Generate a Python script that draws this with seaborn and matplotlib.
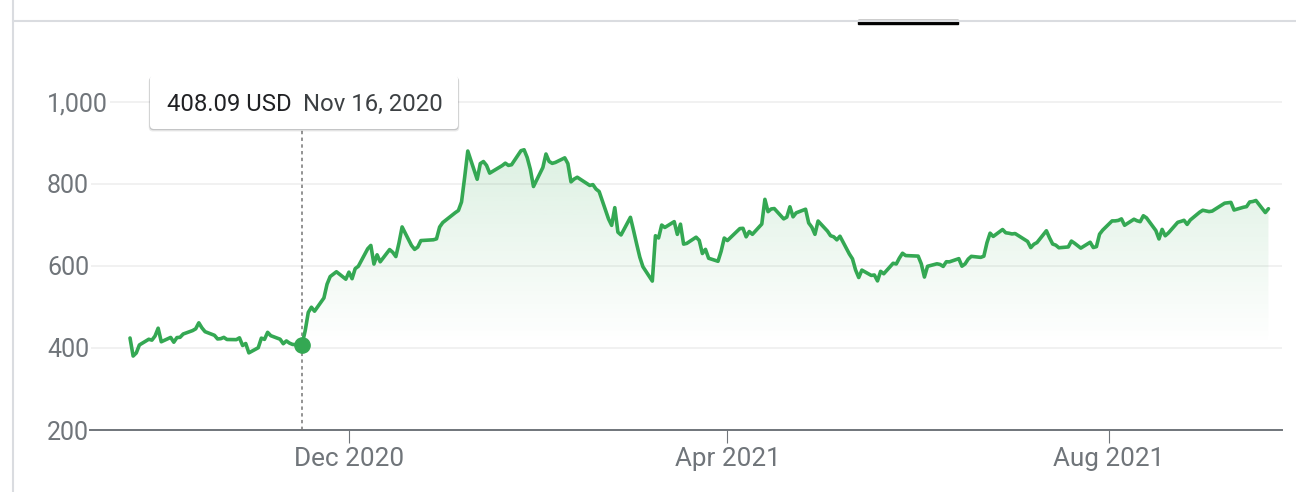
import numpy as np
import pandas as pd
import matplotlib
matplotlib.use('Agg')
from matplotlib import pyplot as plt
import matplotlib.dates as mdates
import matplotlib.patches as mpatches
import matplotlib.transforms as mtransforms
import seaborn as sns

# daily closes, one list per month
sep_2020 = [424.23, 380.36, 387.79, 407.34, 421.20, 419.07, 429.01]
oct_2020 = [448.16, 415.09, 425.68, 413.98, 425.30, 425.92, 434.00, 442.30, 446.65, 461.30, 448.88,
            439.67, 430.83, 421.94, 422.64, 425.79, 420.63, 420.28, 424.68, 406.02, 410.83, 388.04]
nov_2020 = [400.51, 423.90, 420.98, 438.09, 429.95, 421.26, 410.36, 417.13, 411.76, 408.50, 408.09,
            441.61, 486.64, 499.27, 489.61, 521.85, 555.38, 574.00, 585.76, 567.60]
dec_2020 = [584.76, 568.82, 593.38, 599.04, 641.76, 649.88, 604.48, 627.07, 609.99, 639.83, 633.25,
            622.77, 655.90, 695.00, 649.86, 640.34, 645.98, 661.77, 663.69, 665.99, 694.78, 705.67]
jan_2021 = [729.77, 735.11, 755.98, 816.04, 880.02, 811.19, 849.44, 854.41, 845.00, 826.16, 844.55,
            850.45, 844.99, 846.64, 880.80, 883.09, 864.16, 835.43, 793.53]
feb_2021 = [839.81, 872.79, 854.69, 849.99, 852.23, 863.42, 849.46, 804.82, 811.66, 816.12, 796.22,
            798.15, 787.38, 781.30, 714.50, 698.84, 742.02, 682.22, 675.50]
mar_2021 = [718.43, 686.44, 653.20, 621.44, 597.95, 563.00, 673.58, 668.06, 699.60, 693.73, 707.94,
            676.88, 701.81, 653.16, 654.87, 670.00, 662.16, 630.27, 640.39, 618.71, 611.29, 635.62, 667.93]
apr_2021 = [661.75, 691.05, 691.62, 670.97, 683.80, 677.02, 701.98, 762.32, 732.23, 738.85, 739.78,
            714.63, 718.99, 744.12, 719.69, 729.40, 738.20, 704.74, 694.40, 677.00, 709.44]
may_2021 = [684.90, 673.60, 670.94, 663.54, 672.37, 629.04, 617.20, 589.89, 571.69, 589.74, 576.83,
            577.87, 563.46, 586.78, 580.88, 606.44, 604.69, 619.13, 630.85, 625.22]
jun_2021 = [623.90, 605.12, 572.84, 599.05, 605.13, 603.59, 598.78, 610.12, 609.89, 617.69, 599.36,
            604.87, 616.60, 623.31, 620.83, 623.71, 656.57, 679.82, 671.87, 688.72, 680.76, 679.70]
jul_2021 = [677.92, 678.90, 659.58, 644.65, 652.81, 656.95, 685.70, 668.54, 653.38, 650.60, 644.22,
            646.22, 660.50, 655.29, 649.26, 643.38, 657.62, 644.78, 646.98, 677.35, 687.20]
aug_2021 = [709.67, 709.74, 710.92, 714.63, 699.10, 713.76, 709.99, 707.82, 722.25, 717.17, 686.17,
            665.71, 688.99, 673.47, 680.26, 706.30, 708.49, 711.20, 701.16, 711.92, 730.91, 735.72]
sep_2021 = [734.09, 732.39, 733.57, 752.92, 753.87, 754.86, 736.27, 743.00, 744.49, 755.83, 756.99,
            759.49, 730.17, 739.38]

market_holidays = ['2020-11-26', '2020-12-25', '2021-01-01', '2021-01-18', '2021-02-15',
                   '2021-04-02', '2021-05-31', '2021-07-05', '2021-09-06']

closes = (sep_2020 + oct_2020 + nov_2020 + dec_2020 + jan_2021 + feb_2021 + mar_2021
          + apr_2021 + may_2021 + jun_2021 + jul_2021 + aug_2021 + sep_2021)
dates = pd.bdate_range('2020-09-22', '2021-09-21', freq='C', holidays=market_holidays)
df = pd.DataFrame({'date': dates, 'close': closes})

hover_date = pd.Timestamp('2020-11-16')
hover_close = 408.09
tooltip_price = '408.09 USD'
tooltip_date = 'Nov 16, 2020'

y_ticks = [200, 400, 600, 800, 1000]
y_tick_labels = ['200', '400', '600', '800', '1,000']
x_ticks = ['2020-12-01', '2021-04-01', '2021-08-01']

GREEN = '#34a853'
GREY = '#70757a'

sns.set_theme(style='white')
plt.rcParams['font.family'] = ['Roboto', 'DejaVu Sans']

fig = plt.figure(figsize=(12.96, 4.92), dpi=100)
ax = fig.add_axes([90 / 1296, 62 / 492, 1192 / 1296, 361 / 492])

sns.lineplot(data=df, x='date', y='close', ax=ax, color=GREEN, linewidth=2.6, zorder=4,
             solid_joinstyle='round')

# gradient fill from the hovered point onward, down to its price
after = df[df.date >= hover_date]
poly = ax.fill_between(after.date, after.close, hover_close, color='none', linewidth=0)
grad = np.zeros((256, 1, 4))
grad[..., :3] = matplotlib.colors.to_rgb(GREEN)
grad[:, 0, 3] = np.linspace(0.17, 0.0, 256)
x0 = mdates.date2num(after.date.iloc[0])
x1 = mdates.date2num(after.date.iloc[-1])
img = ax.imshow(grad, extent=[x0, x1, hover_close, after.close.max()], origin='upper',
                aspect='auto', zorder=2)
img.set_clip_path(poly.get_paths()[0], transform=ax.transData)

# hover guide + dot
ax.plot([hover_date, hover_date], [200, 932], color='#757575', lw=1.1,
        linestyle=(0, (2.2, 2.2)), zorder=3, clip_on=False)
ax.plot([hover_date], [hover_close], marker='o', markersize=11, color=GREEN, zorder=5)

ax.set_xlim(pd.Timestamp('2020-09-09 05:00'), pd.Timestamp('2021-09-25 08:00'))
ax.set_ylim(200, 1080)
ax.set_xlabel('')
ax.set_ylabel('')

ax.set_yticks(y_ticks)
ax.set_yticklabels(y_tick_labels)
ax.set_xticks(pd.to_datetime(x_ticks))
ax.xaxis.set_major_formatter(mdates.DateFormatter('%b %Y'))

ax.yaxis.grid(True, color='#eeeeee', linewidth=1.1)
ax.xaxis.grid(False)
for side in ['top', 'left', 'right']:
    ax.spines[side].set_visible(False)
ax.spines['bottom'].set_color(GREY)
ax.spines['bottom'].set_linewidth(1.4)

ax.tick_params(axis='y', length=0, pad=31, labelsize=18, labelcolor=GREY)
ax.tick_params(axis='x', length=9.4, width=0.8, color=GREY, pad=3, labelsize=18.8, labelcolor=GREY,
               direction='out', bottom=True)
for lab in ax.get_yticklabels():
    lab.set_horizontalalignment('left')
    lab.set_bbox(dict(facecolor='white', edgecolor='none', pad=1.5))

# page chrome
px = mtransforms.IdentityTransform()
H = 492
fig.add_artist(plt.Line2D([13, 13], [0, H], transform=px, color='#dadce0', lw=1.5))
fig.add_artist(plt.Line2D([13, 1296], [H - 21, H - 21], transform=px, color='#dadce0', lw=1.5))
fig.add_artist(mpatches.Rectangle((858, H - 24), 100, 4, transform=px, color='black'))

# tooltip
for off, a in [(2.5, 0.10), (1.2, 0.22)]:
    fig.add_artist(mpatches.FancyBboxPatch((150 - off / 2, H - 129 - off), 308 + off, 54,
                                           boxstyle='round,pad=0,rounding_size=4', transform=px,
                                           facecolor='#3c4043', edgecolor='none', alpha=a))
fig.add_artist(mpatches.FancyBboxPatch((150, H - 129), 308, 54,
                                       boxstyle='round,pad=0,rounding_size=4', transform=px,
                                       facecolor='white', edgecolor='none'))
fig.text(167 / 1296, (H - 111) / H, tooltip_price, fontsize=17.2, color='#202124', va='baseline')
fig.text(303 / 1296, (H - 111) / H, tooltip_date, fontsize=17.2, color='#3c4043', va='baseline')

fig.savefig('out.png', dpi=100)
